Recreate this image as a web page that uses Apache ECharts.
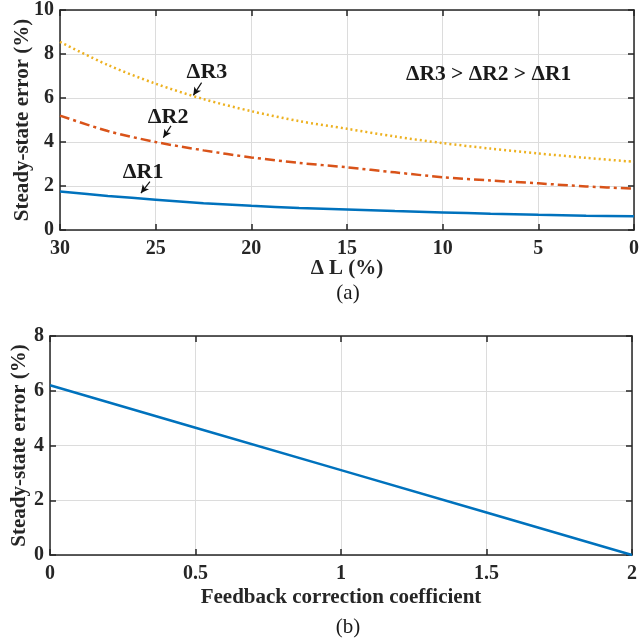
<!DOCTYPE html>
<html><head><meta charset="utf-8">
<script src="https://cdn.jsdelivr.net/npm/echarts@6/dist/echarts.min.js"></script>
<style>html,body{margin:0;padding:0;background:#fff}#c{width:639px;height:643px}</style>
</head><body><div id="c"></div>
<script>
// Top panel (a)
const dL = [30, 27.5, 25, 22.5, 20, 17.5, 15, 12.5, 10, 7.5, 5, 2.5, 0];
const dR1 = [1.75, 1.55, 1.38, 1.22, 1.1, 1.0, 0.93, 0.86, 0.8, 0.74, 0.69, 0.65, 0.62];
const dR2 = [5.2, 4.5, 4.0, 3.62, 3.3, 3.05, 2.85, 2.62, 2.4, 2.25, 2.12, 1.98, 1.88];
const dR3 = [8.55, 7.5, 6.65, 5.95, 5.4, 4.95, 4.6, 4.25, 3.95, 3.7, 3.48, 3.28, 3.1];
// Bottom panel (b)
const coef = [0, 0.5, 1, 1.5, 2];
const err = [6.2, 4.65, 3.1, 1.55, 0];

const FONT = '"Liberation Serif", "Times New Roman", serif';
const axisColor = '#262626';
const gridColor = '#dcdcdc';

function pairs(xs, ys){ return xs.map((x,i)=>[x, ys[i]]); }

function mainX(gi, min, max, interval, inverse, name, nameGap, fmt){
  return {
    type:'value', gridIndex:gi, min, max, interval, inverse, position:'bottom',
    name, nameLocation:'middle', nameGap, nameMoveOverlap:false,
    nameTextStyle:{fontFamily:FONT, fontWeight:'bold', fontSize:21, color:axisColor},
    axisLine:{show:true, onZero:false, lineStyle:{color:axisColor, width:1.5}},
    axisTick:{show:true, inside:true, length:6, lineStyle:{color:axisColor, width:1.5}},
    axisLabel:{fontFamily:FONT, fontWeight:'bold', fontSize:20, color:axisColor, margin:9, formatter:fmt},
    splitLine:{show:true, lineStyle:{color:gridColor, width:1}}
  };
}
function sideX(gi, min, max, interval, inverse){
  return {
    type:'value', gridIndex:gi, min, max, interval, inverse, position:'top',
    axisLine:{show:true, onZero:false, lineStyle:{color:axisColor, width:1.5}},
    axisTick:{show:true, inside:true, length:6, lineStyle:{color:axisColor, width:1.5}},
    axisLabel:{show:false}, splitLine:{show:false}
  };
}
function mainY(gi, min, max, interval, name, nameGap){
  return {
    type:'value', gridIndex:gi, min, max, interval, position:'left',
    name, nameLocation:'middle', nameGap, nameRotate:90, nameMoveOverlap:false,
    nameTextStyle:{fontFamily:FONT, fontWeight:'bold', fontSize:21, color:axisColor},
    axisLine:{show:true, onZero:false, lineStyle:{color:axisColor, width:1.5}},
    axisTick:{show:true, inside:true, length:6, lineStyle:{color:axisColor, width:1.5}},
    axisLabel:{fontFamily:FONT, fontWeight:'bold', fontSize:20, color:axisColor, margin:6},
    splitLine:{show:true, lineStyle:{color:gridColor, width:1}}
  };
}
function sideY(gi, min, max, interval){
  return {
    type:'value', gridIndex:gi, min, max, interval, position:'right',
    axisLine:{show:true, onZero:false, lineStyle:{color:axisColor, width:1.5}},
    axisTick:{show:true, inside:true, length:6, lineStyle:{color:axisColor, width:1.5}},
    axisLabel:{show:false}, splitLine:{show:false}
  };
}

const lbl = (text, coord, size) => ({
  coord, value:text, symbol:'circle', symbolSize:0,
  label:{show:true, formatter:text, position:'inside', fontFamily:FONT, fontWeight:'bold', fontSize:size, color:'#1a1a1a'}
});
const arrow = (from, to) => [{coord:from}, {coord:to}];

const chart = echarts.init(document.getElementById('c'), null, {renderer:'canvas'});
chart.setOption({
  animation:false,
  backgroundColor:'#fff',
  grid:[
    {left:60, top:10, width:574, height:220, containLabel:false, outerBoundsMode:'none'},
    {left:50, top:336, width:582, height:219, containLabel:false, outerBoundsMode:'none'}
  ],
  xAxis:[
    mainX(0, 0, 30, 5, true, 'Δ L (%)', 28),
    sideX(0, 0, 30, 5, true),
    mainX(1, 0, 2, 0.5, false, 'Feedback correction coefficient', 32, v=>String(v)),
    sideX(1, 0, 2, 0.5, false)
  ],
  yAxis:[
    mainY(0, 0, 10, 2, 'Steady-state error (%)', 27),
    sideY(0, 0, 10, 2),
    mainY(1, 0, 8, 2, 'Steady-state error (%)', 20),
    sideY(1, 0, 8, 2)
  ],
  graphic:[
    {type:'text', x:348, y:293, style:{text:'(a)', fontFamily:FONT, fontSize:21, fill:'#1a1a1a', textAlign:'center', textVerticalAlign:'middle'}},
    {type:'text', x:348, y:627, style:{text:'(b)', fontFamily:FONT, fontSize:21, fill:'#1a1a1a', textAlign:'center', textVerticalAlign:'middle'}}
  ],
  series:[
    {type:'line', xAxisIndex:0, yAxisIndex:0, data:pairs(dL, dR1), showSymbol:false, smooth:0.3,
     lineStyle:{color:'#0072BD', width:2.5, type:'solid'}, z:3,
     markPoint:{silent:true, data:[lbl('ΔR1', [25.66, 2.64], 22)]},
     markLine:{silent:true, symbol:['none','arrow'], symbolSize:[6,8], label:{show:false},
       lineStyle:{color:'#111', width:1.2, type:'solid'}, data:[arrow([25.3, 2.2],[25.77, 1.68])]}},
    {type:'line', xAxisIndex:0, yAxisIndex:0, data:pairs(dL, dR2), showSymbol:false, smooth:0.3,
     lineStyle:{color:'#D95319', width:2.5, type:[10,4,3,4]}, z:3,
     markPoint:{silent:true, data:[lbl('ΔR2', [24.35, 5.14], 22)]},
     markLine:{silent:true, symbol:['none','arrow'], symbolSize:[6,8], label:{show:false},
       lineStyle:{color:'#111', width:1.2, type:'solid'}, data:[arrow([24.2, 4.73],[24.6, 4.2])]}},
    {type:'line', xAxisIndex:0, yAxisIndex:0, data:pairs(dL, dR3), showSymbol:false, smooth:0.3,
     lineStyle:{color:'#EDB120', width:2.5, type:[2,3]}, z:3,
     markPoint:{silent:true, data:[lbl('ΔR3', [22.32, 7.18], 22), lbl('ΔR3 > ΔR2 > ΔR1', [7.6, 7.05], 21.5)]},
     markLine:{silent:true, symbol:['none','arrow'], symbolSize:[6,8], label:{show:false},
       lineStyle:{color:'#111', width:1.2, type:'solid'}, data:[arrow([22.6, 6.7],[23.03, 6.12])]}},
    {type:'line', xAxisIndex:2, yAxisIndex:2, data:pairs(coef, err), showSymbol:false,
     lineStyle:{color:'#0072BD', width:2.5}, z:3}
  ]
});
</script>
</body></html>
